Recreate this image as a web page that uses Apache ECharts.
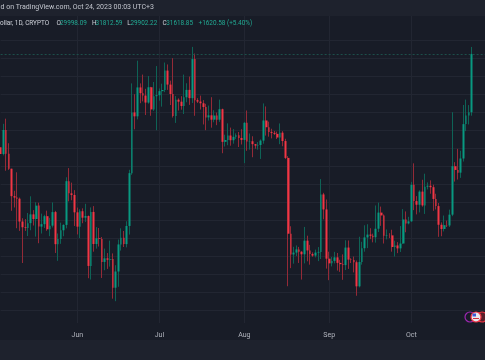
<!DOCTYPE html>
<html><head><meta charset="utf-8">
<script src="https://cdn.jsdelivr.net/npm/echarts@6/dist/echarts.min.js"></script>
<style>html,body{margin:0;padding:0;background:#181c27;}#c{width:485px;height:360px;}</style>
</head><body><div id="c"></div>
<script>
// ---- data: BTC/USD daily, 2023-05-04 .. 2023-10-23 ----
const startDate = '2023-05-04';
const emptyDaysAfter = 5; // right margin of the time scale (days without bars)
const opens = [
29026,28838,29506,28848,28430,27668,27628,27598,26963,26804,26785,26918,27162,27033,27405,26822,26890,27112,26747,26849,27226,26334,26476,26720,26869,28085,27746,27701,
27219,26820,27249,27069,27116,25729,27230,26339,26498,26477,25841,25940,25902,25919,25124,25575,26327,26510,26336,26840,28307,29994,29885,30688,30528,30462,30267,30693,30077,30446,
30472,30585,30617,31156,30767,30505,29895,30347,30292,30171,30414,30620,30391,31476,30334,30295,30249,30145,29856,29913,29792,29908,29792,30083,29176,29228,29352,29222,29315,29357,29284,
29230,29705,29186,29193,29113,29072,29088,29211,29770,29582,29452,29425,29398,29297,29431,29199,28730,26624,26048,26101,26189,26125,26053,26432,26160,26060,26017,26101,26120,27716,27299,
25931,25801,25869,25968,25814,25779,25753,26240,25905,25895,25832,25163,25840,26222,26522,26600,26568,26527,26763,27211,27132,26567,26580,26579,26256,26299,26217,26352,27021,26911,
26968,27983,27531,27429,27794,27411,27932,27956,27917,27590,27392,26873,26756,26862,26853,27154,28500,28396,28320,28714,29669,29910,29998.09
];
const highs = [
29379,29677,29820,29138,28430,27818,28331,27630,27055,27030,27200,27664,27279,27500,27485,27183,27150,27265,27064,27495,27259,26631,26932,26887,28193,28447,28044,27835,
27350,27303,27330,27455,27131,27355,27391,26810,26783,26533,26212,26087,26433,26078,25750,26463,26775,26700,26970,28400,30800,30500,31431,30800,31045,30650,31006,30703,30839,31282,
30660,30792,31380,31327,30877,31500,30449,30385,30445,31045,30804,30990,31814,31630,30390,30460,30336,30233,30184,30417,30055,29991,30350,30099,29375,29690,29572,29530,29413,29450,29528,
29730,30047,29409,29332,29116,29170,29244,30244,30160,29738,29540,29480,29460,29688,29474,29262,28781,26832,26261,26299,26258,26139,26813,26570,26315,26107,26182,26253,28142,27760,27575,
26125,25979,26121,26089,25900,26050,26443,26437,25944,25990,25880,26540,26400,26859,26888,26777,26626,27409,27488,27378,27160,26743,26640,26735,26430,26391,26838,27308,27244,27094,
28065,28580,27669,27830,28123,28292,28050,28107,27987,27735,27477,26939,27130,26989,27293,30000,28612,28982,28929,30200,30350,30198,31812.59
];
const lows = [
28667,28800,28374,28395,27260,27353,26777,26702,25811,26702,26560,26721,26852,26544,26361,26630,26784,26705,26556,26798,26090,25871,26343,26555,26773,27524,27554,26839,
26605,26503,26916,26952,25388,25351,26125,26210,26269,25395,25609,25647,25710,24820,24750,25150,26156,26255,26245,26600,28260,29525,29800,30250,30300,29921,30236,29900,30036,29500,
30319,30155,30558,30620,30200,29850,29702,30047,30070,29950,30276,30203,30254,29900,30254,30074,29659,29500,29767,29570,29720,29640,29730,28861,29047,29083,29069,29125,29257,29033,29103,
28585,28927,28960,28749,28985,28960,28701,29125,29350,29320,29272,29368,29254,29112,29055,28699,25166,25668,25793,26004,25812,25351,25800,25858,25764,25983,25966,25864,25922,27025,25655,
25334,25717,25800,25600,25565,25344,25615,25647,25810,25550,24901,25133,25765,26125,26224,26474,26385,26377,26671,26843,26352,26466,26502,26125,25990,26085,26117,26342,26665,26884,
26954,27280,27161,27216,27376,27174,27856,27736,27260,27298,26538,26555,26687,26810,26810,27112,28073,28129,28176,28630,29475,29660,29902.22
];
const closes = [
28838,29506,28848,28430,27668,27628,27598,26963,26804,26785,26918,27162,27033,27405,26822,26890,27112,26747,26849,27226,26334,26476,26720,26869,28085,27746,27701,27219,
26820,27249,27069,27116,25729,27230,26339,26498,26477,25841,25940,25902,25919,25124,25575,26327,26510,26336,26840,28307,29994,29885,30688,30528,30462,30267,30693,30077,30446,30472,
30585,30617,31156,30767,30505,29895,30347,30292,30171,30414,30620,30391,31476,30334,30295,30249,30145,29856,29913,29792,29908,29792,30083,29176,29228,29352,29222,29315,29357,29284,29230,
29705,29186,29193,29113,29072,29088,29211,29770,29582,29452,29425,29398,29297,29431,29199,28730,26624,26048,26101,26189,26125,26053,26432,26160,26060,26017,26101,26120,27716,27299,25931,
25801,25869,25968,25814,25779,25753,26240,25905,25895,25832,25163,25840,26222,26522,26600,26568,26527,26763,27211,27132,26567,26580,26579,26256,26299,26217,26352,27021,26911,26968,
27983,27531,27429,27794,27411,27932,27956,27917,27590,27392,26873,26756,26862,26853,27154,28500,28396,28320,28714,29669,29910,29998,31618.85
];
const monthNames = ['Jan','Feb','Mar','Apr','May','Jun','Jul','Aug','Sep','Oct','Nov','Dec'];
const headerText = 'd on TradingView.com, Oct 24, 2023 00:03 UTC+3';
const symbolText = 'ollar, 1D, CRYPTO';
const ohlcLabels = ['O', 'H', 'L', 'C'];
const ohlcValues = ['29998.09', '31812.59', '29902.22', '31618.85'];
const changeText = '+1620.58 (+5.40%)';

// ---- styles ----
const BG = '#181c27', BAR = '#1e222d', GRID = '#222632';
const UP = '#089981', DOWN = '#f23645', UPW = '#0e6356', DOWNW = '#942a37';
const FONT = 'Roboto, "Liberation Sans", sans-serif';

// categories
const cats = [];
{
  const d0 = new Date(startDate + 'T00:00:00Z');
  for (let i = 0; i < opens.length + emptyDaysAfter; i++) {
    const d = new Date(d0.getTime() + i * 86400000);
    cats.push(d.toISOString().slice(0, 10));
  }
}
const isMonthStart = (idx, v) => v.slice(8) === '01';
const wickData = opens.map((o, i) => [o, closes[i], lows[i], highs[i]]);
const bodyData = opens.map((o, i) => [o, closes[i], Math.min(o, closes[i]), Math.max(o, closes[i])]);
const lastClose = closes[closes.length - 1];

const yMin = 24000, yMax = 33000, yStep = 500;
const splitColors = [];
for (let v = yMin; v <= yMax; v += yStep) {
  splitColors.push((v === yMin || v >= 32500) ? 'rgba(0,0,0,0)' : GRID);
}

const chart = echarts.init(document.getElementById('c'), null, {renderer: 'canvas'});

const textEl = (text, x, y, fill, size) => ({
  type: 'text', z: 101, silent: true,
  style: {text, x, y, fill, fontSize: size, fontFamily: FONT, verticalAlign: 'middle', align: 'left'}
});
const L2 = 6.4;
const ohlcX = [[56.5, 60], [92, 95.6], [127.2, 130.4], [162.5, 166.2]];
const legendEls = [textEl(headerText, 0.5, 7.5, '#c3c6ce', 7), textEl(symbolText, 0, 23.5, '#d1d4dc', L2)];
ohlcLabels.forEach((l, i) => {
  legendEls.push(textEl(l, ohlcX[i][0], 23.5, '#d1d4dc', L2));
  legendEls.push(textEl(ohlcValues[i], ohlcX[i][1], 23.5, '#22ab94', L2));
});
legendEls.push(textEl(changeText, 198.5, 23.5, '#22ab94', L2));

chart.setOption({
  animation: false,
  backgroundColor: BG,
  grid: {left: 0.64, width: 484.66, top: 4.2, height: 324, containLabel: false, outerBoundsMode: 'none'},
  xAxis: [
    {
      type: 'category', data: cats, boundaryGap: false, position: 'top',
      axisLine: {show: false}, axisTick: {show: false}, axisLabel: {show: false},
      splitLine: {show: true, interval: isMonthStart, lineStyle: {color: GRID, width: 1}}
    },
    {
      type: 'category', data: cats, boundaryGap: false, position: 'bottom', z: 10,
      axisLine: {show: false}, axisTick: {show: false}, splitLine: {show: false},
      axisLabel: {
        show: true, interval: isMonthStart, margin: 3.5,
        formatter: v => monthNames[parseInt(v.slice(5, 7), 10) - 1],
        color: '#b2b5be', fontSize: 7, fontFamily: FONT
      }
    }
  ],
  yAxis: {
    type: 'value', min: yMin, max: yMax, interval: yStep, position: 'right', scale: true,
    axisLine: {show: false}, axisTick: {show: false}, axisLabel: {show: false},
    splitLine: {show: true, lineStyle: {color: splitColors, width: 1}}
  },
  series: [
    {
      name: 'wick', type: 'candlestick', xAxisIndex: 0, data: wickData, barWidth: 1, z: 2,
      itemStyle: {color: UPW, color0: DOWNW, borderColor: UPW, borderColor0: DOWNW, borderWidth: 1}
    },
    {
      name: 'body', type: 'candlestick', xAxisIndex: 0, data: bodyData, barWidth: 2.2, z: 3,
      itemStyle: {color: UP, color0: DOWN, borderColor: UP, borderColor0: DOWN, borderWidth: 0},
      markLine: {
        silent: true, symbol: ['none', 'none'], label: {show: false},
        lineStyle: {type: [2, 2], color: '#1c4f4a', width: 1},
        data: [{yAxis: lastClose}]
      }
    }
  ],
  graphic: {
    elements: [
      {type: 'rect', z: 100, silent: true, shape: {x: 0, y: 0, width: 485, height: 16}, style: {fill: BAR}},
      {type: 'rect', z: 5, silent: true, shape: {x: 0, y: 323, width: 485, height: 17}, style: {fill: BG}},
      {type: 'rect', z: 5, silent: true, shape: {x: 0, y: 340, width: 485, height: 20}, style: {fill: BAR}},
      {type: 'circle', z: 6, silent: true, shape: {cx: 470, cy: 317, r: 5}, style: {fill: BG, stroke: '#9c27b0', lineWidth: 1.2}},
      {type: 'circle', z: 7, silent: true, shape: {cx: 476, cy: 317, r: 5}, style: {fill: '#e8e8ee', stroke: '#f23645', lineWidth: 1.2}},
      {type: 'rect', z: 8, silent: true, shape: {x: 472.5, y: 313.5, width: 3.5, height: 3}, style: {fill: '#3c5bd6'}},
      {type: 'rect', z: 8, silent: true, shape: {x: 473, y: 318, width: 6, height: 1}, style: {fill: '#d03040'}},
      {type: 'circle', z: 6, silent: true, shape: {cx: 482, cy: 317, r: 5}, style: {fill: '#5a1f2a', stroke: '#f23645', lineWidth: 1.2}}
    ].concat(legendEls)
  }
});
</script>
</body></html>
